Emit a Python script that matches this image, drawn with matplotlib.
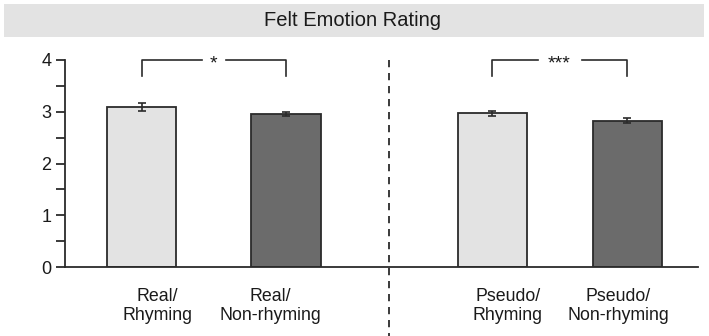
import matplotlib
matplotlib.use("Agg")
import matplotlib.pyplot as plt
from matplotlib.patches import Rectangle

plt.rcParams['font.family'] = ['Liberation Sans', 'DejaVu Sans']

# ---- data ----
title = "Felt Emotion Rating"
categories = ["Real/\nRhyming", "Real/\nNon-rhyming", "Pseudo/\nRhyming", "Pseudo/\nNon-rhyming"]
means = [3.09, 2.95, 2.97, 2.83]
errors = [0.07, 0.04, 0.05, 0.05]
bar_colors = ["#e3e3e3", "#6b6b6b", "#e3e3e3", "#6b6b6b"]
sig_pairs = [(0, 1, "*"), (2, 3, "***")]

# ---- layout (positions in axis units) ----
W, H = 709, 336
fig = plt.figure(figsize=(W / 100, H / 100), dpi=100)

# title band
fig.patches.append(Rectangle((4 / W, 1 - 37 / H), 700 / W, 33 / H,
                             transform=fig.transFigure, facecolor="#e3e3e3",
                             edgecolor="none", zorder=0))
fig.text(352 / W, 1 - 21 / H, title, ha="center", va="center",
         fontsize=14.5, color="#1a1a1a")

ax_left, ax_right, ax_top, ax_bottom = 64.5, 698, 60, 267
ax = fig.add_axes([ax_left / W, 1 - ax_bottom / H,
                   (ax_right - ax_left) / W, (ax_bottom - ax_top) / H])

unit = 144.5
positions = [(141.5 - ax_left) / unit, (286 - ax_left) / unit,
             (492 - ax_left) / unit, (627 - ax_left) / unit]
label_pos = [(157.5 - ax_left) / unit, (270.5 - ax_left) / unit,
             (508 - ax_left) / unit, (618 - ax_left) / unit]
width = 69 / unit
ax.set_xlim(0, (ax_right - ax_left) / unit)
ax.set_ylim(0, 4)

edge = "#2b2b2b"
ax.bar(positions, means, width=width, color=bar_colors, edgecolor=edge,
       linewidth=1.3, zorder=2)
ax.errorbar(positions, means, yerr=errors, fmt="none", ecolor=edge,
            elinewidth=1.2, capsize=2.6, capthick=1.2, zorder=3)

for sp in ["top", "right"]:
    ax.spines[sp].set_visible(False)
for sp in ["left", "bottom"]:
    ax.spines[sp].set_linewidth(1.3)
    ax.spines[sp].set_color(edge)

ax.set_yticks([v / 2 for v in range(0, 9)])
ax.set_yticklabels([str(int(v / 2)) if v % 2 == 0 else "" for v in range(0, 9)],
                   fontsize=13)
ax.tick_params(axis="y", length=6.5, width=1.3, color=edge, pad=3,
               labelcolor="#1a1a1a")
ax.set_xticks([])

for p, lab in zip(label_pos, categories):
    ax.text(p, -0.40, lab, ha="center", va="top", fontsize=12.8,
            linespacing=1.2, multialignment="center", color="#1a1a1a")

# dashed separator
sep_x = (389.3 - ax_left) / unit
ax.plot([sep_x, sep_x], [4.0, -1.33], linestyle=(0, (4, 3.2)), color=edge,
        linewidth=1.3, clip_on=False, zorder=1)

# significance brackets
gaps = {"*": 12, "***": 22}
for i, j, s in sig_pairs:
    x1, x2 = positions[i], positions[j]
    xm = (x1 + x2) / 2
    g = gaps[s] / unit
    y_top, y_bot = 4.0, 3.69
    ax.plot([x1, x1, xm - g], [y_bot, y_top, y_top], color=edge, lw=1.2,
            clip_on=False)
    ax.plot([xm + g, x2, x2], [y_top, y_top, y_bot], color=edge, lw=1.2,
            clip_on=False)
    ax.text(xm, y_top - 0.08, s, ha="center", va="center", fontsize=14,
            color="#1a1a1a")

fig.savefig("out.png", dpi=100)
